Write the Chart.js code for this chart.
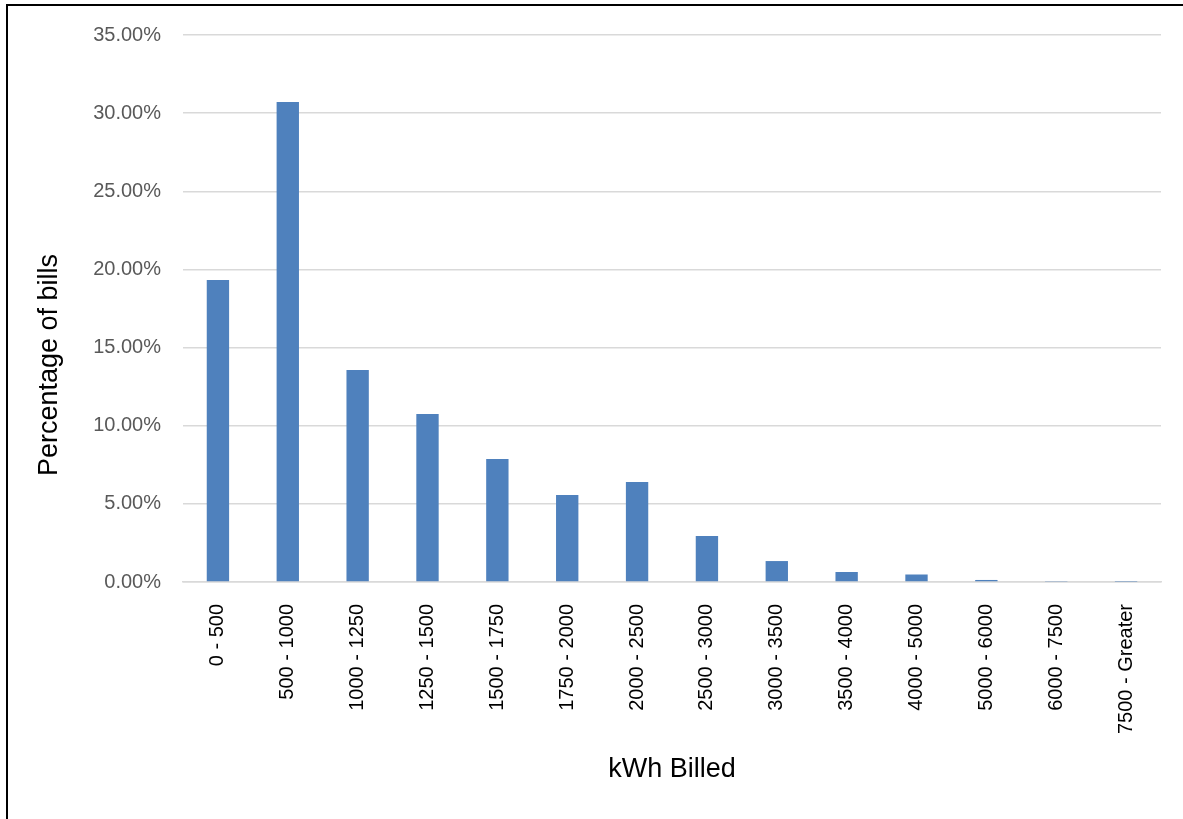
<!DOCTYPE html>
<html>
<head>
<meta charset="utf-8">
<script src="https://cdn.jsdelivr.net/npm/chart.js@4"></script>
<style>
  html, body { margin: 0; padding: 0; background: #fff; }
  #wrap { position: relative; width: 1183px; height: 819px; overflow: hidden; }
  #frame {
    position: absolute; left: 6px; top: 4px; width: 1200px; height: 840px;
    border-left: 2px solid #000; border-top: 2px solid #000; pointer-events: none;
  }
</style>
</head>
<body>
<div id="wrap">
  <canvas id="chart" width="1183" height="819"></canvas>
  <div id="frame"></div>
</div>
<script>
// kWh ranges on the x axis
const categories = [
  '0 - 500', '500 - 1000', '1000 - 1250', '1250 - 1500', '1500 - 1750',
  '1750 - 2000', '2000 - 2500', '2500 - 3000', '3000 - 3500', '3500 - 4000',
  '4000 - 5000', '5000 - 6000', '6000 - 7500', '7500 - Greater'
];

// share of bills in each range (fraction)
const billShare = [
  0.1932, 0.3071, 0.1356, 0.1075, 0.0787,
  0.0557, 0.0640, 0.0294, 0.0134, 0.0064,
  0.0048, 0.0013, 0.0003, 0.0002
];

const yTicks = [0, 0.05, 0.10, 0.15, 0.20, 0.25, 0.30, 0.35];

const tickFont = { family: 'Liberation Sans', size: 20 };
const titleFont = { family: 'Liberation Sans', size: 27 };

// y axis title sits lower than the plot centre (as in the Excel original)
const yTitlePlugin = {
  id: 'yTitle',
  afterDraw(chart) {
    const c = chart.ctx;
    c.save();
    c.translate(50, 365);
    c.rotate(-Math.PI / 2);
    c.font = `${titleFont.size}px ${titleFont.family}`;
    c.fillStyle = '#000';
    c.textAlign = 'center';
    c.textBaseline = 'middle';
    c.fillText('Percentage of bills', 0, 0);
    c.restore();
  }
};

const ctx = document.getElementById('chart').getContext('2d');

new Chart(ctx, {
  type: 'bar',
  data: {
    labels: categories,
    datasets: [{
      label: 'Percentage of bills',
      data: billShare,
      backgroundColor: '#4F81BD',
      borderWidth: 0,
      barPercentage: 0.32,
      categoryPercentage: 1
    }]
  },
  plugins: [yTitlePlugin],
  options: {
    responsive: false,
    animation: false,
    layout: { padding: { left: 10, right: 22, top: 35, bottom: 0 } },
    plugins: {
      legend: { display: false },
      tooltip: { enabled: false }
    },
    scales: {
      x: {
        grid: { display: false },
        border: { color: '#D9D9D9', width: 1.5 },
        ticks: {
          color: '#000',
          font: tickFont,
          minRotation: 90,
          maxRotation: 90,
          padding: 14,
          autoSkip: false
        },
        title: {
          display: true,
          text: 'kWh Billed',
          color: '#000',
          font: titleFont,
          padding: { top: 0, bottom: 33 }
        },
        afterFit: scale => { scale.height = 819 - 582; }
      },
      y: {
        min: 0,
        max: 0.35,
        afterBuildTicks: scale => {
          scale.ticks = yTicks.map(v => ({ value: v }));
        },
        grid: { color: '#D9D9D9', lineWidth: 1.5, drawTicks: false },
        border: { display: false },
        ticks: {
          color: '#595959',
          font: tickFont,
          padding: 22,
          callback: v => (v * 100).toFixed(2) + '%'
        },
        title: { display: false },
        afterFit: scale => { scale.width = 183 - 10; }
      }
    }
  }
});
</script>
</body>
</html>
